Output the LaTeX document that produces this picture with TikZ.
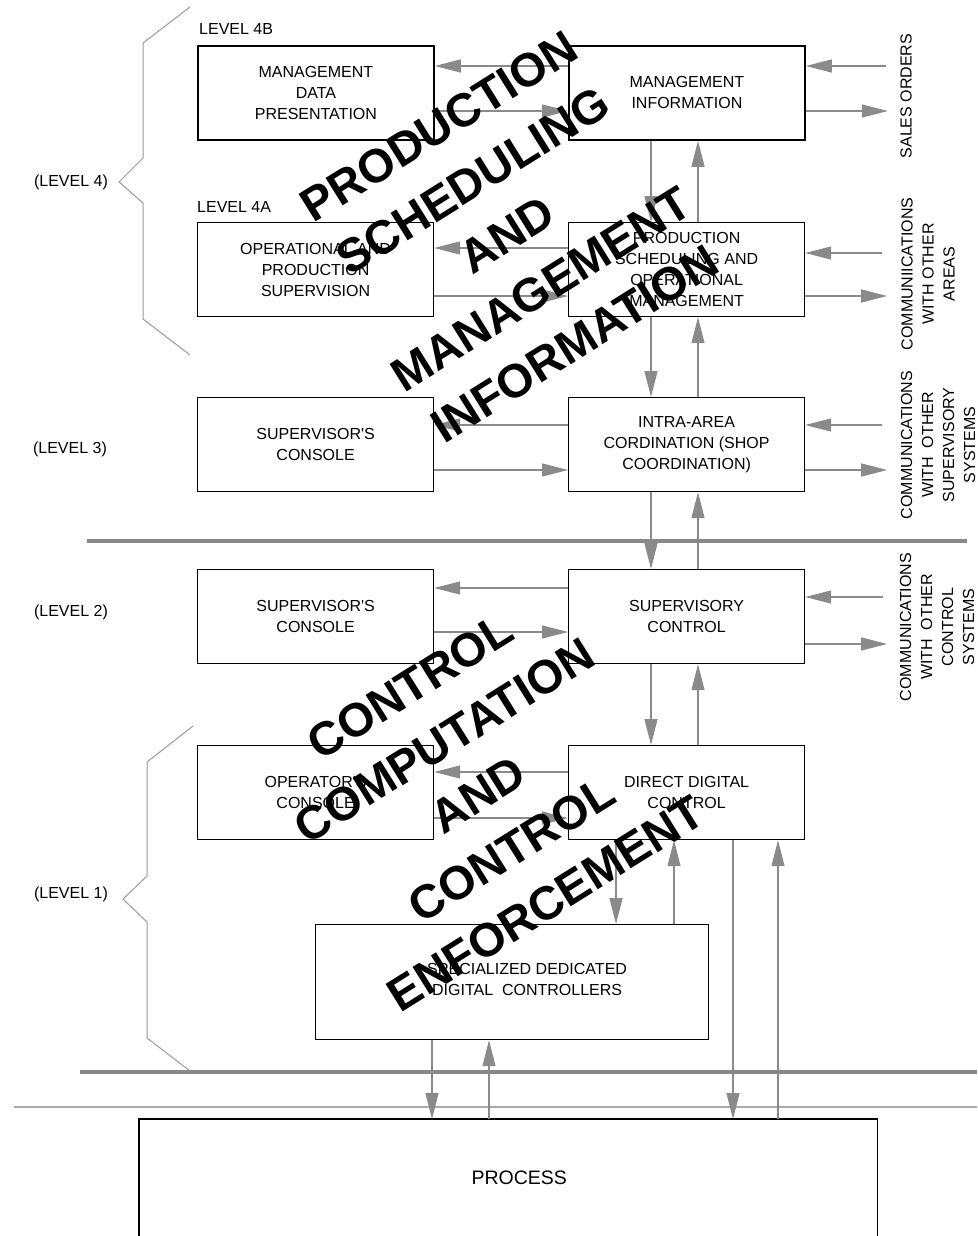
\documentclass[tikz,border=0pt]{standalone}
\usepackage{fontspec}
\setmainfont{Liberation Sans}
\usetikzlibrary{arrows.meta}
\definecolor{flowgray}{HTML}{8A8A8A}
\definecolor{bracegray}{HTML}{9A9A9A}
\definecolor{rulegray}{HTML}{888888}
\definecolor{thingray}{HTML}{AAAAAA}
\newcommand\boxfont{\fontsize{16}{21}\selectfont}
\newcommand\bigfont{\fontsize{47}{64}\selectfont\bfseries}
\begin{document}
\begin{tikzpicture}[x=1pt,y=-1pt,
  blk/.style={draw=black, line width=1.2pt, minimum width=236pt, minimum height=94pt,
    inner sep=0pt, align=center, font=\boxfont, anchor=north west},
  heavyblk/.style={blk, line width=1.8pt},
  lbl/.style={font=\boxfont, align=center, inner sep=0pt},
  vlbl/.style={lbl, rotate=90},
  arr/.style={draw=flowgray, line width=1.3pt, -{Triangle[length=26pt,width=13pt]}},
  brace/.style={draw=bracegray, line width=1pt},
  divider/.style={draw=rulegray, line width=3.2pt},
  bigword/.style={font=\bigfont, align=center, inner sep=0pt, rotate=32, text=black}]
\useasboundingbox (0,0) rectangle (977,1236);

% ---- boxes ----
\node[heavyblk] (mdp)  at (197,45)  {MANAGEMENT\\DATA\\PRESENTATION};
\node[heavyblk] (mi)   at (568,45)  {MANAGEMENT\\INFORMATION};
\node[blk] (ops)  at (197,222) {OPERATIONAL AND\\PRODUCTION\\SUPERVISION};
\node[blk] (psom) at (568,222) {PRODUCTION\\SCHEDULING AND\\OPERATIONAL\\MANAGEMENT};
\node[blk] (sc3)  at (197,397) {SUPERVISOR\textquotesingle S\\CONSOLE};
\node[blk] (iac)  at (568,397) {INTRA-AREA\\CORDINATION (SHOP\\COORDINATION)};
\node[blk] (sc2)  at (197,569) {SUPERVISOR\textquotesingle S\\CONSOLE};
\node[blk] (svc)  at (568,569) {SUPERVISORY\\CONTROL};
\node[blk] (opc)  at (197,745) {OPERATOR\textquotesingle S\\CONSOLE};
\node[blk] (ddc)  at (568,745) {DIRECT DIGITAL\\CONTROL};
\node[blk, minimum width=393pt, minimum height=115pt] (sdc) at (315,924) {};
\node[lbl] (sdctext) at ([xshift=15pt,yshift=3pt]sdc.center)
  {SPECIALIZED DEDICATED\\DIGITAL\ \ CONTROLLERS};

% process block, running off the lower edge
\node[anchor=north west, minimum width=738pt, minimum height=117pt, inner sep=0pt] (proc) at (139,1119) {};
\draw[black, line width=1.2pt] (proc.south west) -- (proc.north west) -- (proc.north east) -- (proc.south east);
\node[font=\fontsize{19.5}{23}\selectfont, inner sep=0pt] (proctext) at ([xshift=11pt]proc.center) {PROCESS};

% ---- level labels ----
\node[lbl, anchor=base west] (l4b) at ([xshift=2pt,yshift=10pt]mdp.north west) {LEVEL 4B};
\node[lbl, anchor=base west] (l4a) at ([yshift=10pt]ops.north west) {LEVEL 4A};
\node[lbl] (lev4) at (71,182) {(LEVEL 4)};
\node[lbl] (lev3) at (70,449) {(LEVEL 3)};
\node[lbl] (lev2) at (71,612) {(LEVEL 2)};
\node[lbl] (lev1) at (71,894) {(LEVEL 1)};

% ---- braces ----
\draw[brace] (190,7) -- (143,43) -- (143,158) -- (119,182) -- (143,203) -- (143,319) -- (190,355);
\draw[brace] (193,726) -- (147,762) -- (147,876) -- (123,899) -- (147,922) -- (147,1038) -- (190,1071);

% ---- horizontal rules ----
\draw[divider] (87,541) -- (967,541);
\draw[divider] (80,1072) -- (977,1072);
\draw[thingray, line width=1.3pt] (14,1107) -- (977,1107);

% ---- links between left and right columns ----
\draw[arr] ([yshift=-21pt]mi.north west) -- ([yshift=-21pt]mdp.north east);
\draw[arr] ([yshift=-66pt]mdp.north east) -- ([yshift=-66pt]mi.north west);
\draw[arr] ([yshift=-26pt]psom.north west) -- ([yshift=-26pt]ops.north east);
\draw[arr] ([yshift=-74pt]ops.north east) -- ([yshift=-74pt]psom.north west);
\draw[arr] ([yshift=-28pt]iac.north west) -- ([yshift=-28pt]sc3.north east);
\draw[arr] ([yshift=-73pt]sc3.north east) -- ([yshift=-73pt]iac.north west);
\draw[arr] ([yshift=-19pt]svc.north west) -- ([yshift=-19pt]sc2.north east);
\draw[arr] ([yshift=-63pt]sc2.north east) -- ([yshift=-63pt]svc.north west);
\draw[arr] ([yshift=-27pt]ddc.north west) -- ([yshift=-27pt]opc.north east);
\draw[arr] ([yshift=-73pt]opc.north east) -- ([yshift=-73pt]ddc.north west);

% ---- external communications ----
\draw[arr] ([xshift=80pt,yshift=-21pt]mi.north east) -- ([yshift=-21pt]mi.north east);
\draw[arr] ([yshift=-66pt]mi.north east) -- ++(82,0);
\draw[arr] ([xshift=77pt,yshift=-31pt]psom.north east) -- ([yshift=-31pt]psom.north east);
\draw[arr] ([yshift=-74pt]psom.north east) -- ++(82,0);
\draw[arr] ([xshift=77pt,yshift=-28pt]iac.north east) -- ([yshift=-28pt]iac.north east);
\draw[arr] ([yshift=-73pt]iac.north east) -- ++(82,0);
\draw[arr] ([xshift=78pt,yshift=-28pt]svc.north east) -- ([yshift=-28pt]svc.north east);
\draw[arr] ([yshift=-75pt]svc.north east) -- ++(82,0);

\node[vlbl] (sales) at (906,96) {SALES ORDERS};
\node[vlbl] (areas) at (928,274) {COMMUNIICATIONS\\WITH OTHER\\AREAS};
\node[vlbl] (supsys) at (938,445) {COMMUNICATIONS\\WITH\ \ OTHER\\SUPERVISORY\\SYSTEMS};
\node[vlbl] (ctlsys) at (937,627) {COMMUNICATIONS\\WITH\ \ OTHER\\CONTROL\\SYSTEMS};

% ---- vertical links in the right column ----
\foreach \upper/\lower in {mi/psom, psom/iac, iac/svc, svc/ddc} {
  \draw[arr] ([xshift=83pt]\upper.south west) -- ([xshift=83pt]\lower.north west);
  \draw[arr] ([xshift=130pt]\lower.north west) -- ([xshift=130pt]\upper.south west);
}

% ---- direct digital control, dedicated controllers and process ----
\draw[arr] ([xshift=48pt]ddc.south west) -- ([xshift=48pt]ddc.south west |- sdc.north);
\draw[arr] ([xshift=106pt]ddc.south west |- sdc.north) -- ([xshift=106pt]ddc.south west);
\draw[arr] ([xshift=165pt]ddc.south west) -- ([xshift=165pt]ddc.south west |- proc.north);
\draw[arr] ([xshift=210pt]ddc.south west |- proc.north) -- ([xshift=210pt]ddc.south west);
\draw[arr] ([xshift=117pt]sdc.south west) -- ([xshift=117pt]sdc.south west |- proc.north);
\draw[arr] ([xshift=174pt]sdc.south west |- proc.north) -- ([xshift=174pt]sdc.south west);

% ---- function areas written across the diagram ----
\node[bigword] (upperarea) at (507,235) {PRODUCTION\\SCHEDULING\\AND\\MANAGEMENT\\INFORMATION};
\node[bigword] (lowerarea) at (478,795) {CONTROL\\COMPUTATION\\AND\\CONTROL\\ENFORCEMENT};
\end{tikzpicture}
\end{document}
